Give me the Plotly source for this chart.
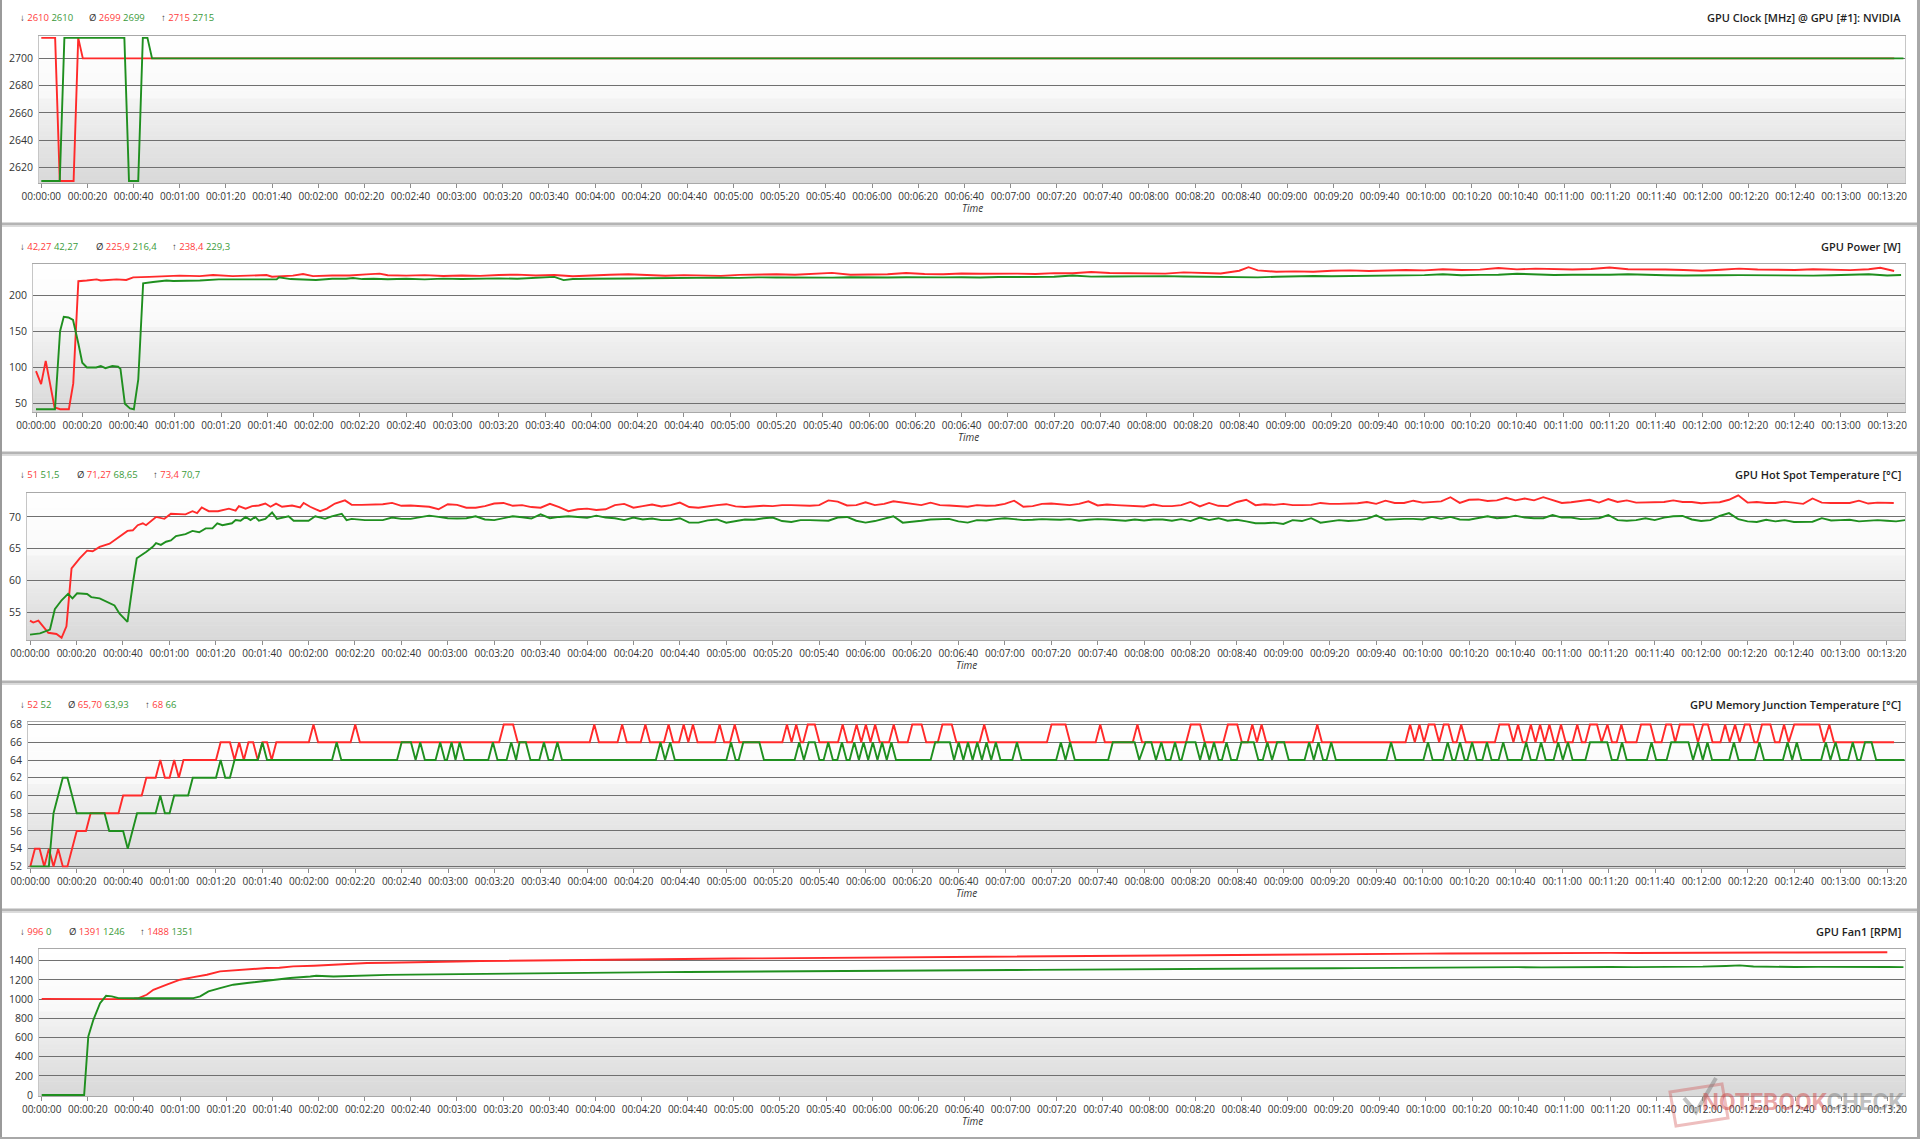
import plotly.graph_objects as go

W, H = 1920, 1139

RED = "#ff2a2a"
GREEN = "#1f8f1f"
RED_TXT = "#ff3b3b"
GREEN_TXT = "#3a9a3a"
FONT = "Open Sans"

# ---------------------------------------------------------------- data
tick_seconds = list(range(0, 801, 20))
tick_labels = [f"00:{s // 60:02d}:{s % 60:02d}" for s in tick_seconds]

# Panel 1 - GPU clock [MHz]
clock_red = [(0, 2715), (6, 2715), (8, 2610), (14, 2610), (16, 2715), (18, 2700), (803, 2700)]
clock_green = [(0, 2610), (8, 2610), (10, 2715), (36, 2715), (38, 2610), (42, 2610),
               (44, 2715), (46, 2715), (48, 2700), (807, 2700)]
clock_ticks = [2620, 2640, 2660, 2680, 2700]

# Panel 2 - GPU power [W]
power_red = [(0, 95), (2.2, 77), (4.2, 109), (8, 45), (10.4, 42.3), (14.2, 42.3), (16.1, 78),
             (18.3, 219), (21.9, 220), (26.2, 221.6), (28, 220), (34.8, 221.6), (39, 220.7),
             (42, 224.4), (49, 225), (56.4, 226), (62, 226.7), (70.8, 226), (76.5, 227.6),
             (85, 226), (93.8, 227), (99.6, 227.6), (102, 225.3), (111, 226.7), (115.4, 229),
             (119.7, 226), (128, 227), (135.5, 227), (142.7, 228.5), (148.5, 229.5),
             (152, 227.3), (160, 226.8), (168, 227.5), (176, 226.2), (184, 227.0), (192, 226.4),
             (200, 227.6), (208, 228.2), (216, 227.0), (224, 227.7), (232, 225.8), (240, 227.4),
             (248, 228.0), (256, 228.6), (264, 227.2), (272, 226.6), (280, 227.4), (288, 226.9),
             (296, 226.4), (304, 227.8), (312, 228.3), (320, 228.6), (328, 228.0), (336, 229.2),
             (344, 230.5), (352, 228.0), (360, 228.4), (368, 228.6), (376, 230.4), (384, 229.0),
             (392, 228.7), (400, 229.6), (408, 229.3), (416, 229.8), (424, 229.5), (432, 229.0),
             (440, 230.2), (448, 230.0), (456, 231.8), (464, 230.4), (472, 230.0), (480, 230.6),
             (488, 229.5), (496, 231.2), (504, 230.2), (512, 229.6), (520, 233.5), (524, 238.4),
             (528, 234.0), (536, 232.0), (544, 232.6), (552, 232.2), (560, 233.4), (568, 234.0),
             (576, 233.2), (584, 233.8), (592, 234.5), (600, 234.0), (608, 235.5), (616, 234.5),
             (624, 235.0), (632, 237.2), (640, 235.4), (648, 236.4), (656, 235.8), (664, 235.2),
             (672, 236.0), (680, 238.0), (688, 235.5), (696, 235.8), (704, 235.3), (712, 234.6),
             (720, 233.4), (728, 234.8), (736, 236.4), (744, 235.2), (752, 235.0), (760, 234.6),
             (768, 235.5), (776, 235.0), (784, 234.3), (792, 235.6), (797, 237.6), (803, 233.2)]
power_green = [(0, 42.3), (8.2, 42.3), (10.4, 150), (12, 170), (14, 169), (16, 165.5),
               (18.3, 133), (20, 106.6), (22, 100), (26, 100), (28, 102), (30, 99), (33, 102),
               (35.5, 101), (36.5, 98), (38.4, 50), (40.6, 43.5), (42.3, 42.3), (44.2, 83.6),
               (46.3, 216), (50.6, 218), (56.4, 220), (59.3, 219.3), (64, 219.3), (70.8, 220),
               (79, 221.6), (88, 221.6), (99.6, 222.5), (104, 221.6), (105, 224.4), (110, 222),
               (121, 220.7), (128, 222.5), (134, 222.5), (137, 223.5), (141, 222), (146, 222.5),
               (152, 221.8), (160, 222.4), (168, 221.6), (176, 222.6), (184, 222.0), (192, 222.8),
               (200, 223.0), (208, 222.4), (216, 223.6), (224, 225.0), (228, 220.5), (232, 222.0),
               (240, 222.4), (248, 222.2), (256, 222.7), (264, 223.2), (272, 223.6), (280, 223.0),
               (288, 223.8), (296, 224.0), (304, 223.6), (312, 224.4), (320, 224.1), (328, 223.8),
               (336, 224.4), (344, 224.0), (352, 224.6), (360, 224.2), (368, 224.1), (376, 224.6),
               (384, 225.0), (392, 224.4), (400, 224.6), (408, 224.1), (416, 224.8), (424, 225.0),
               (432, 224.6), (440, 225.2), (448, 227.0), (456, 225.4), (464, 225.6), (472, 225.9),
               (480, 225.4), (488, 226.0), (496, 225.5), (504, 225.2), (512, 225.0), (520, 224.8),
               (528, 224.4), (536, 225.2), (544, 225.9), (552, 226.2), (560, 225.8), (568, 226.0),
               (576, 227.2), (584, 226.5), (592, 226.8), (600, 227.4), (608, 228.6), (616, 227.3),
               (624, 227.8), (632, 228.0), (640, 229.3), (648, 228.2), (656, 227.7), (664, 228.0),
               (672, 227.6), (680, 228.0), (688, 228.6), (696, 227.5), (704, 227.3), (712, 227.0),
               (720, 226.6), (728, 227.2), (736, 227.4), (744, 227.0), (752, 227.6), (760, 227.2),
               (768, 226.8), (776, 227.3), (784, 228.0), (792, 228.6), (800, 227.0), (806, 227.7)]
power_ticks = [50, 100, 150, 200]

# Panel 3 - GPU hot spot temperature [°C]
hot_red = [(0, 53.7), (1.4, 53.4), (3.6, 53.7), (7.9, 51.8), (11.4, 51.6), (13.6, 51.0),
           (15.7, 52.8), (17.9, 61.9), (21.4, 63.5), (24.6, 64.7), (27, 64.6), (30, 65.3),
           (34.3, 65.8), (38.6, 67.0), (42, 67.8), (44.3, 67.9), (46.4, 68.7), (48.6, 69.0),
           (50, 68.7), (54.3, 70.0), (57.9, 69.7), (60.7, 70.5), (67, 70.4), (70, 70.9), (72, 70.6),
           (74, 71.5), (77, 70.9), (81, 70.9), (85.7, 71.3), (88.6, 71.0), (90, 71.7), (92.9, 71.3),
           (95.7, 71.7), (98.6, 71.8), (101.4, 72.1), (103.6, 71.6), (106, 72.1), (108.6, 71.6),
           (112.9, 71.8), (116.4, 71.5), (117.9, 72.2), (120.7, 71.6), (125, 70.9), (127.9, 71.3),
           (131.4, 72.1), (135.7, 72.6), (138.6, 71.9), (142.9, 71.9), (147, 71.9),
           (152, 72.0), (156, 72.2), (160, 71.75), (164, 71.8), (168, 71.75), (172, 71.6),
           (176, 71.2), (180, 72.0), (184, 71.9), (188, 71.45), (192, 71.45), (196, 71.7),
           (200, 72.1), (204, 72.2), (208, 71.75), (212, 71.85), (216, 71.55), (220, 71.45),
           (224, 72.05), (228, 71.55), (232, 70.9), (236, 71.2), (240, 71.3), (244, 71.1),
           (248, 71.2), (252, 71.85), (256, 72.05), (260, 71.45), (264, 71.7), (268, 71.95),
           (272, 71.65), (276, 71.85), (280, 72.25), (284, 71.55), (288, 71.45), (292, 71.7),
           (296, 71.85), (300, 72.0), (304, 71.65), (308, 71.55), (312, 71.7), (316, 71.75),
           (320, 71.7), (324, 71.85), (328, 71.85), (332, 71.75), (336, 71.75), (340, 71.85),
           (344, 72.6), (348, 72.4), (352, 71.8), (356, 71.85), (360, 72.3), (364, 71.85),
           (368, 72.05), (372, 72.45), (376, 72.25), (380, 71.95), (384, 71.85), (388, 72.25),
           (392, 71.85), (396, 71.8), (400, 71.75), (404, 71.6), (408, 71.85), (412, 71.75),
           (416, 71.8), (420, 72.05), (424, 72.55), (428, 71.6), (432, 71.7), (436, 72.05),
           (440, 72.1), (444, 71.95), (448, 71.85), (452, 72.05), (456, 72.45), (460, 71.8),
           (464, 71.95), (468, 71.85), (472, 71.8), (476, 71.7), (480, 71.65), (484, 71.95),
           (488, 71.7), (492, 71.7), (496, 71.85), (500, 72.35), (504, 71.65), (508, 72.2),
           (512, 71.75), (516, 71.7), (520, 72.35), (524, 72.7), (528, 71.85), (532, 72.0),
           (536, 71.9), (540, 72.05), (544, 71.85), (548, 71.85), (552, 71.9), (556, 72.2),
           (560, 72.05), (564, 72.05), (568, 72.05), (572, 72.15), (576, 72.35), (580, 72.05),
           (584, 72.55), (588, 72.2), (592, 72.2), (596, 72.55), (600, 72.25), (604, 72.3),
           (608, 72.45), (612, 73.1), (616, 72.2), (620, 72.7), (624, 72.75), (628, 72.5),
           (632, 72.6), (636, 73.0), (640, 72.6), (644, 72.9), (648, 72.6), (652, 73.1),
           (656, 72.7), (660, 72.2), (664, 72.3), (668, 72.45), (672, 72.7), (676, 72.25),
           (680, 72.8), (684, 72.35), (688, 72.6), (692, 72.25), (696, 72.3), (700, 72.35),
           (704, 72.35), (708, 72.6), (712, 72.35), (716, 72.35), (720, 72.15), (724, 72.25),
           (728, 72.3), (732, 72.7), (736, 73.4), (740, 72.25), (744, 72.35), (748, 72.2),
           (752, 72.2), (756, 72.4), (760, 72.25), (764, 72.05), (768, 72.9), (772, 72.25),
           (776, 72.2), (780, 72.2), (784, 72.2), (788, 72.55), (792, 72.1), (796, 72.25),
           (800, 72.2), (803, 72.2)]
hot_green = [(0, 51.5), (4.3, 51.7), (8.6, 52.3), (10.7, 55.5), (13.6, 56.9), (16.4, 57.9),
             (18.3, 57.2), (20.3, 58.0), (24.6, 57.9), (26.4, 57.4), (30, 57.2), (33, 56.7),
             (36.4, 56.1), (38.6, 54.8), (42, 53.5), (44.3, 59.5), (46, 63.5), (50, 64.5),
             (52.9, 65.3), (54.3, 65.9), (56.4, 65.6), (58.6, 66.1), (60.7, 66.3), (62.9, 67.0),
             (67, 67.3), (70, 67.8), (72.9, 67.6), (75.7, 68.2), (78.6, 68.2), (80.7, 69.0),
             (82.9, 68.7), (87, 69.0), (88.6, 69.5), (90.7, 69.4), (92.9, 70.0), (95, 69.5),
             (97, 70.0), (98.6, 69.4), (101.4, 69.7), (104.3, 70.7), (106.4, 69.7), (111.4, 70.1),
             (113.6, 69.4), (120, 69.4), (122.9, 70.1), (127.1, 69.7), (130, 70.1), (134.3, 70.5),
             (136.4, 69.5), (138.6, 69.7), (144.3, 69.5), (148, 69.5),
             (152, 69.5), (156, 69.9), (160, 69.7), (164, 69.7), (168, 69.9), (172, 70.2),
             (176, 70.0), (180, 69.8), (184, 69.75), (188, 69.8), (192, 70.1), (196, 69.6),
             (200, 69.5), (204, 69.75), (208, 70.1), (212, 69.95), (216, 69.75), (220, 70.4),
             (224, 69.8), (228, 70.0), (232, 70.1), (236, 70.0), (240, 69.85), (244, 70.2),
             (248, 69.9), (252, 69.8), (256, 69.5), (260, 69.9), (264, 69.6), (268, 69.75),
             (272, 69.5), (276, 69.5), (280, 69.8), (284, 69.1), (288, 69.1), (292, 69.45),
             (296, 69.6), (300, 69.1), (304, 69.4), (308, 69.6), (312, 69.55), (316, 69.8),
             (320, 69.9), (324, 69.35), (328, 69.2), (332, 69.5), (336, 69.5), (340, 69.4),
             (344, 69.4), (348, 69.9), (352, 70.0), (356, 69.4), (360, 69.1), (364, 69.35),
             (368, 69.7), (372, 70.1), (376, 69.1), (380, 69.2), (384, 69.4), (388, 69.6),
             (392, 69.6), (396, 69.7), (400, 69.3), (404, 69.1), (408, 69.5), (412, 69.45),
             (416, 69.65), (420, 69.8), (424, 69.65), (428, 69.5), (432, 69.55), (436, 69.65),
             (440, 69.6), (444, 69.55), (448, 69.65), (452, 69.4), (456, 69.55), (460, 69.65),
             (464, 69.6), (468, 69.5), (472, 69.4), (476, 69.6), (480, 69.45), (484, 69.6),
             (488, 69.6), (492, 69.4), (496, 69.65), (500, 69.35), (504, 69.9), (508, 69.5),
             (512, 69.8), (516, 69.4), (520, 69.55), (524, 69.3), (528, 69.0), (532, 69.0),
             (536, 69.1), (540, 68.9), (544, 69.5), (548, 69.35), (552, 69.8), (556, 69.1),
             (560, 69.3), (564, 69.5), (568, 69.35), (572, 69.45), (576, 69.7), (580, 70.25),
             (584, 69.55), (588, 69.65), (592, 69.7), (596, 69.7), (600, 69.6), (604, 70.0),
             (608, 69.7), (612, 70.0), (616, 69.6), (620, 69.55), (624, 69.8), (628, 70.1),
             (632, 69.8), (636, 69.9), (640, 70.2), (644, 69.9), (648, 69.8), (652, 69.8),
             (656, 70.3), (660, 69.9), (664, 69.9), (668, 69.65), (672, 69.7), (676, 69.8),
             (680, 70.3), (684, 69.5), (688, 69.4), (692, 69.5), (696, 69.8), (700, 69.5),
             (704, 69.9), (708, 70.1), (712, 70.15), (716, 69.6), (720, 69.35), (724, 69.5),
             (728, 70.15), (732, 70.6), (736, 69.65), (740, 69.3), (744, 69.2), (748, 69.55),
             (752, 69.3), (756, 69.5), (760, 69.2), (764, 69.2), (768, 69.25), (772, 69.8),
             (776, 69.45), (780, 69.5), (784, 69.55), (788, 69.3), (792, 69.4), (796, 69.5),
             (800, 69.4), (804, 69.3), (808, 69.5)]
hot_ticks = [55, 60, 65, 70]

# Panel 4 - GPU memory junction temperature [°C]
mem_red = [(0, 52), (2, 54), (4, 54), (6, 52), (8, 54), (10, 52), (12, 54), (14, 52), (16, 52),
           (20, 56), (24, 56), (26, 58), (38, 58), (40, 60), (48, 60), (50, 62), (54, 62), (56, 64),
           (58, 62), (60, 62), (62, 64), (64, 62), (66, 64), (80, 64), (82, 66), (86, 66), (88, 64),
           (90, 66), (92, 64), (94, 66), (96, 66), (98, 64), (100, 66), (102, 66), (104, 64),
           (106, 66), (120, 66), (122, 68), (124, 66), (138, 66), (140, 68), (142, 66),
           (202, 66), (204, 68), (208, 68), (210, 66),
           (241, 66), (243, 68), (245, 66), (253, 66), (255, 68), (257, 66), (263, 66), (265, 68),
           (267, 66), (273, 66), (275, 68), (277, 66), (279.5, 66), (281.5, 68), (283.5, 66),
           (285.5, 68), (287.5, 66), (295, 66), (297, 68), (299, 66), (301.5, 66), (303.5, 68),
           (305.5, 66), (324, 66), (326, 68), (328, 66), (330, 68), (332, 66), (333, 66), (335, 68),
           (338, 68), (340, 66), (348, 66), (350, 68), (352, 66), (354, 66), (356, 68), (358, 66),
           (360, 68), (362, 66), (364, 68), (366, 66), (370, 66), (372, 68), (374, 66), (378, 66),
           (380, 68), (384, 68), (386, 66), (391, 66), (393, 68), (397, 68), (399, 66), (409, 66),
           (411, 68), (413, 66), (438, 66), (440, 68), (446, 68), (448, 66), (459, 66), (461, 68),
           (463, 66), (475, 66), (477, 68), (479, 66),
           (498, 66), (500, 68), (504, 68), (506, 66), (514, 66), (516, 68), (520, 68), (522, 66),
           (524.5, 66), (526.5, 68), (528.5, 66), (530.5, 68), (532.5, 66), (552.5, 66),
           (554.5, 68), (556.5, 66), (592.5, 66), (594.5, 68), (596.5, 66), (598.5, 68),
           (600.5, 66), (602.5, 68), (605, 68), (607, 66), (609, 68), (611, 68), (613, 66),
           (614.5, 66), (616.5, 68), (618.5, 66), (631, 66), (633, 68), (637, 68), (639, 66),
           (641, 68), (643, 66), (644.5, 66), (646.5, 68), (648.5, 66), (650.5, 68), (652.5, 66),
           (654.5, 68), (656.5, 66), (657.5, 66), (659.5, 68), (661.5, 66), (664.5, 66),
           (666.5, 68), (668.5, 66), (670, 66), (672, 68), (675, 68), (677, 66), (679.5, 68),
           (681.5, 66), (683.5, 66), (685.5, 68), (687.5, 66), (692, 66), (694, 68), (698, 68),
           (700, 66), (702.8, 66), (704.8, 68), (706.9, 68), (708.7, 66), (710.7, 68), (716.5, 68),
           (718.5, 66), (720.7, 68), (722.8, 68), (724.8, 66), (728.2, 66), (730.2, 68),
           (732.2, 66), (734.5, 68), (736.5, 66), (738.7, 68), (740.8, 68), (742.8, 66),
           (744.1, 66), (746.1, 68), (749.7, 68), (751.7, 66), (753.6, 66), (755.6, 68),
           (757.6, 66), (760, 68), (770.8, 68), (772.8, 66), (775.1, 68), (777.1, 66), (803, 66)]
mem_green = [(0, 52), (8, 52), (10, 58), (14, 62), (16, 62), (20, 58), (32, 58), (34, 56), (40, 56),
             (42, 54), (46, 58), (54, 58), (56, 60), (58, 58), (60, 58), (62, 60), (68, 60), (70, 62),
             (80, 62), (82, 64), (84, 62), (86, 62), (88, 64), (98, 64), (100, 66), (102, 64),
             (130, 64), (132, 66), (134, 64),
             (158, 64), (160, 66), (164, 66), (166, 64), (168, 66), (170, 64), (174.6, 64),
             (176.6, 66), (178.6, 64), (179.5, 64), (181.5, 66), (183.2, 64), (185, 66), (187, 64),
             (197.3, 64), (199.3, 66), (201.3, 64), (205.2, 64), (207.2, 66), (209.3, 64),
             (210.8, 66), (213.5, 66), (215.5, 64), (219.3, 64), (221.3, 66), (223.3, 64),
             (225.1, 64), (227.1, 66), (229.1, 64),
             (269.5, 64), (271.5, 66), (273.5, 64), (275.7, 66), (277.7, 64), (299.9, 64),
             (301.9, 66), (303.9, 64), (305.2, 64), (307.2, 66), (314.1, 66), (316.1, 64),
             (329.3, 64), (331.3, 66), (333.3, 64), (335.4, 66), (338, 66), (340, 64), (341.8, 64),
             (343.8, 66), (345.8, 64), (347.7, 64), (349.7, 66), (351.7, 64), (353, 64), (355, 66),
             (357, 64), (359, 66), (361, 64), (363, 66), (365, 64), (367, 66), (369, 64), (371, 66),
             (373, 64), (387.9, 64), (389.9, 66), (396.2, 66), (398, 64), (400, 66), (402, 64),
             (404, 66), (406, 64), (408, 66), (410, 64), (412, 66), (414, 64), (416, 66), (418, 64),
             (423.1, 64), (425.1, 66), (427.1, 64), (442, 64), (444, 66), (446, 64), (448, 66),
             (450, 64), (464.4, 64), (466.4, 66), (475.8, 66), (477.8, 64), (480.5, 66), (483, 66),
             (485, 64), (487.3, 66), (489.3, 64), (491.2, 64), (493.2, 66), (495.2, 64), (496, 64),
             (498, 66), (502, 66), (504, 64), (506, 66), (508, 64), (510, 66), (512, 64),
             (513.4, 64), (515.4, 66), (517.4, 64), (519.8, 64), (521.8, 66), (527.1, 66),
             (529.1, 64), (531, 64), (533, 66), (535, 64), (537.2, 66), (540.2, 66), (542.2, 64),
             (549, 64), (551, 66), (553, 64), (555, 66), (557, 64), (558.5, 64), (560.5, 66),
             (562.5, 64), (584.3, 64), (586.3, 66), (588.3, 64), (600.2, 64), (602.2, 66),
             (604.2, 64), (608.7, 64), (610.7, 66), (612.7, 64), (614, 64), (616, 66), (618, 64),
             (619.2, 64), (621.2, 66), (623.2, 64), (625.6, 64), (627.6, 66), (629.6, 64),
             (632.6, 64), (634.6, 66), (636.6, 64), (642.5, 64), (644.5, 66), (646.5, 64),
             (648.9, 64), (650.9, 66), (652.9, 64), (656.3, 64), (658.3, 66), (660.3, 64),
             (662.5, 66), (664.5, 64), (670, 64), (672, 66), (679.4, 66), (681.4, 64), (683.8, 64),
             (685.8, 66), (687.8, 64), (696.5, 64), (698.5, 66), (700.5, 64), (705, 64), (707, 66),
             (714.4, 66), (716.4, 64), (718.6, 66), (720.6, 64), (722.6, 66), (724.6, 64), (732, 64),
             (734, 66), (736, 64), (743, 64), (745, 66), (747, 64), (755.1, 64), (757.1, 66),
             (759.1, 64), (761.1, 66), (763.1, 64), (771.6, 64), (773.6, 66), (775.6, 64),
             (777.8, 66), (779.8, 64), (783.2, 64), (785.2, 66), (787.2, 64), (788.5, 64),
             (790.5, 66), (793.3, 66), (795.3, 64), (807.5, 64)]
mem_ticks = [52, 54, 56, 58, 60, 62, 64, 66, 68]

# Panel 5 - GPU fan1 [RPM]
fan_red = [(0, 1002), (10, 1000), (20, 1003), (30, 1000), (40, 1004), (42, 1010), (45.5, 1045),
           (48.4, 1097), (54.2, 1150), (60, 1202), (65.8, 1229), (71.6, 1254), (77.3, 1289),
           (83, 1299), (89, 1306), (97.6, 1324), (103, 1326), (109, 1341), (118, 1348),
           (126.5, 1358), (132, 1369), (141, 1376), (150, 1378),
           (160, 1380), (170, 1385), (180, 1391), (190, 1397), (200, 1400), (210, 1403),
           (220, 1405), (230, 1408), (240, 1410), (250, 1412), (260, 1415), (270, 1416),
           (280, 1419), (290, 1420), (300, 1423), (310, 1424), (320, 1426), (330, 1428),
           (340, 1429), (350, 1431), (360, 1433), (370, 1434), (380, 1437), (390, 1438),
           (400, 1440), (410, 1442), (420, 1443), (430, 1446), (440, 1447), (450, 1449),
           (460, 1451), (470, 1452), (480, 1454), (490, 1456), (500, 1457), (510, 1459),
           (520, 1461), (530, 1462), (540, 1464), (550, 1466), (560, 1467), (570, 1469),
           (580, 1471), (590, 1472), (600, 1474), (610, 1475), (620, 1477), (630, 1479),
           (640, 1480), (650, 1479), (660, 1481), (670, 1480), (680, 1482), (690, 1481),
           (700, 1483), (710, 1482), (720, 1484), (730, 1483), (740, 1484), (750, 1486),
           (760, 1485), (770, 1486), (780, 1485), (790, 1487), (800, 1488)]
fan_green = [(0, 0), (18.4, 0), (20.2, 610), (22.4, 784), (25.3, 958), (27.9, 1034), (30.4, 1028),
             (33.3, 1010), (39.8, 1008), (47, 1010), (54.2, 1012), (65.8, 1010), (68.7, 1028),
             (72.3, 1080), (77.3, 1115), (83, 1150), (89, 1167), (94.7, 1184), (100.5, 1202),
             (107.7, 1219), (116.4, 1236), (119, 1243), (126.5, 1236), (133.7, 1243), (141, 1250),
             (150, 1252), (160, 1255), (170, 1258), (180, 1260), (190, 1262), (200, 1265),
             (210, 1268), (220, 1270), (230, 1272), (240, 1275), (250, 1277), (260, 1280),
             (270, 1281), (280, 1283), (290, 1285), (300, 1287), (310, 1288), (320, 1290),
             (330, 1291), (340, 1293), (350, 1294), (360, 1296), (370, 1297), (380, 1298),
             (390, 1299), (400, 1300), (410, 1302), (420, 1303), (430, 1304), (440, 1306),
             (450, 1307), (460, 1308), (470, 1310), (480, 1311), (490, 1312), (500, 1314),
             (510, 1315), (520, 1316), (530, 1318), (540, 1319), (550, 1320), (560, 1322),
             (570, 1323), (580, 1325), (590, 1326), (600, 1328), (610, 1329), (620, 1331),
             (630, 1332), (640, 1333), (650, 1331), (660, 1334), (670, 1332), (680, 1335),
             (690, 1333), (700, 1334), (710, 1336), (720, 1338), (730, 1345), (736, 1351),
             (742, 1340), (750, 1336), (760, 1334), (770, 1336), (780, 1333), (790, 1335),
             (800, 1334), (807, 1333)]
fan_ticks = [0, 200, 400, 600, 800, 1000, 1200, 1400]

# statistics rows: (min red, min green), (avg red, avg green), (max red, max green)
stats_clock = [("2610", "2610"), ("2699", "2699"), ("2715", "2715")]
stats_power = [("42,27", "42,27"), ("225,9", "216,4"), ("238,4", "229,3")]
stats_hot = [("51", "51,5"), ("71,27", "68,65"), ("73,4", "70,7")]
stats_mem = [("52", "52"), ("65,70", "63,93"), ("68", "66")]
stats_fan = [("996", "0"), ("1391", "1246"), ("1488", "1351")]

titles = ["GPU Clock [MHz] @ GPU [#1]: NVIDIA", "GPU Power [W]",
          "GPU Hot Spot Temperature [°C]", "GPU Memory Junction Temperature [°C]",
          "GPU Fan1 [RPM]"]

# ---------------------------------------------------------------- layout geometry (px)
panels = [
    dict(red=clock_red, green=clock_green, ticks=clock_ticks, stats=stats_clock,
         left=39, right=1905, top=36, bottom=183, t0x=41.3, pps=2.3075,
         yr=[2608.5, 2716.4], sx=[18, 87, 159]),
    dict(red=power_red, green=power_green, ticks=power_ticks, stats=stats_power,
         left=33, right=1905, top=264, bottom=412, t0x=36, pps=2.314,
         yr=[38.5, 242.8], sx=[18, 94, 170]),
    dict(red=hot_red, green=hot_green, ticks=hot_ticks, stats=stats_hot,
         left=27, right=1905, top=493, bottom=640, t0x=30, pps=2.321,
         yr=[50.66, 73.76], sx=[18, 75, 151]),
    dict(red=mem_red, green=mem_green, ticks=mem_ticks, stats=stats_mem,
         left=28, right=1905, top=722, bottom=868, t0x=30.3, pps=2.321,
         yr=[51.82, 68.29], sx=[18, 66, 143]),
    dict(red=fan_red, green=fan_green, ticks=fan_ticks, stats=stats_fan,
         left=39, right=1905, top=949, bottom=1096, t0x=41.7, pps=2.307,
         yr=[-10, 1522], sx=[18, 67, 138]),
]


def px(x):
    return x / W


def py(y):
    return 1 - y / H


fig = go.Figure()
layout = dict(
    width=W, height=H, autosize=False,
    margin=dict(l=0, r=0, t=0, b=0, pad=0, autoexpand=False),
    paper_bgcolor="white", plot_bgcolor="rgba(0,0,0,0)",
    showlegend=False,
    font=dict(family=FONT, size=10, color="#333333"),
)
shapes = []
annotations = []

for i, p in enumerate(panels):
    n = "" if i == 0 else str(i + 1)
    xa, ya = "x" + n, "y" + n
    for series, col in ((p["red"], RED), (p["green"], GREEN)):
        fig.add_trace(go.Scatter(
            x=[a for a, _ in series], y=[b for _, b in series],
            mode="lines", line=dict(color=col, width=1.9),
            xaxis=xa, yaxis=ya, hoverinfo="skip"))
    xr = [(p["left"] - p["t0x"]) / p["pps"], (p["right"] - p["t0x"]) / p["pps"]]
    layout["xaxis" + n] = dict(
        domain=[px(p["left"]), px(p["right"])], range=xr, anchor=ya,
        tickmode="array", tickvals=tick_seconds, ticktext=tick_labels,
        ticks="outside", ticklen=4, tickwidth=1, tickcolor="#8c8c8c",
        showgrid=False, zeroline=False, showline=True, linecolor="#a9a9a9",
        linewidth=1, mirror=True, tickfont=dict(size=10, color="#333333"),
        automargin=False, fixedrange=True)
    layout["yaxis" + n] = dict(
        domain=[py(p["bottom"]), py(p["top"])], range=p["yr"], anchor=xa,
        tickmode="array", tickvals=p["ticks"], ticks="",
        showgrid=True, gridcolor="#707070", gridwidth=1.3, zeroline=False,
        showline=True, linecolor="#c6c6c6", linewidth=1, mirror=True,
        ticklabelstandoff=3, tickfont=dict(size=10.5, color="#333333"),
        automargin=False, fixedrange=True)

    # glossy background gradient of the plot area
    N = 40
    hgt = p["bottom"] - p["top"]
    for k in range(N):
        f = (k + 0.5) / N
        if f < 0.42:
            c = 255 - 6 * f / 0.42
        else:
            c = 244 - 28 * (f - 0.42) / 0.58
        c = int(round(c))
        shapes.append(dict(
            type="rect", xref="paper", yref="paper", layer="below",
            x0=px(p["left"]), x1=px(p["right"]),
            y0=py(p["top"] + hgt * (k + 1) / N + 0.5), y1=py(p["top"] + hgt * k / N),
            fillcolor=f"rgb({c},{c},{c})", line=dict(width=0)))

    # stats row
    sy = py(p["top"] - 18)
    glyphs = ["↓", "Ø", "↑"]
    for g, (rv, gv), x0 in zip(glyphs, p["stats"], p["sx"]):
        annotations.append(dict(
            xref="paper", yref="paper", x=px(x0), y=sy, xanchor="left", yanchor="middle",
            showarrow=False, font=dict(family=FONT, size=9.5, color="#333333"),
            text=(f'{g} <span style="color:{RED_TXT}">{rv}</span> '
                  f'<span style="color:{GREEN_TXT}">{gv}</span>')))
    # panel title
    annotations.append(dict(
        xref="paper", yref="paper", x=px(1903), y=sy, xanchor="right", yanchor="middle",
        showarrow=False, text=titles[i],
        font=dict(family=FONT, size=11, color="#1e1e1e", weight=600)))
    # "Time" axis caption
    annotations.append(dict(
        xref="paper", yref="paper", x=px((p["left"] + p["right"]) / 2), y=py(p["bottom"] + 25),
        xanchor="center", yanchor="middle", showarrow=False, text="<i>Time</i>",
        font=dict(family=FONT, size=10, color="#333333")))

# panel separators and window frame
for sep in [224, 453, 682, 910]:
    shapes.append(dict(type="rect", xref="paper", yref="paper", layer="above",
                       x0=0, x1=1, y0=py(sep + 1.5), y1=py(sep - 1.5),
                       fillcolor="#b4b4b4", line=dict(width=0)))
    shapes.append(dict(type="rect", xref="paper", yref="paper", layer="above",
                       x0=0, x1=1, y0=py(sep + 3), y1=py(sep + 1.5),
                       fillcolor="#dcdcdc", line=dict(width=0)))
shapes.append(dict(type="rect", xref="paper", yref="paper", layer="above",
                   x0=0, x1=px(2), y0=0, y1=1, fillcolor="#9a9a9a", line=dict(width=0)))
shapes.append(dict(type="rect", xref="paper", yref="paper", layer="above",
                   x0=px(1917), x1=1, y0=0, y1=1, fillcolor="#a8a8a8", line=dict(width=0)))
shapes.append(dict(type="rect", xref="paper", yref="paper", layer="above",
                   x0=0, x1=1, y0=0, y1=py(1137), fillcolor="#a8a8a8", line=dict(width=0)))

# watermark (logo outline + text)
logo = [(1670, 1092), (1722, 1084), (1728, 1118), (1676, 1126)]
path = "M " + " L ".join(f"{px(a):.5f},{py(b):.5f}" for a, b in logo) + " Z"
shapes.append(dict(type="path", xref="paper", yref="paper", layer="above", path=path,
                   line=dict(color="rgba(205,70,70,0.35)", width=3)))
check = [(1684, 1098), (1696, 1112), (1716, 1078)]
path2 = "M " + " L ".join(f"{px(a):.5f},{py(b):.5f}" for a, b in check)
shapes.append(dict(type="path", xref="paper", yref="paper", layer="above", path=path2,
                   line=dict(color="rgba(120,120,120,0.45)", width=4)))
annotations.append(dict(
    xref="paper", yref="paper", x=px(1700), y=py(1102), xanchor="left", yanchor="middle",
    showarrow=False,
    text=('<span style="color:rgba(205,55,55,0.45)">NOTEBOOK</span>'
          '<span style="color:rgba(115,115,115,0.45)">CHECK</span>'),
    font=dict(family="Roboto", size=24, weight=700)))

layout["shapes"] = shapes
layout["annotations"] = annotations
fig.update_layout(**layout)
fig.write_html(
    "out.html",
    config={"displayModeBar": False},
    post_script=("document.body.style.margin='0px';"
                 "document.body.style.padding='0px';"
                 "document.body.style.overflow='hidden';"),
)
